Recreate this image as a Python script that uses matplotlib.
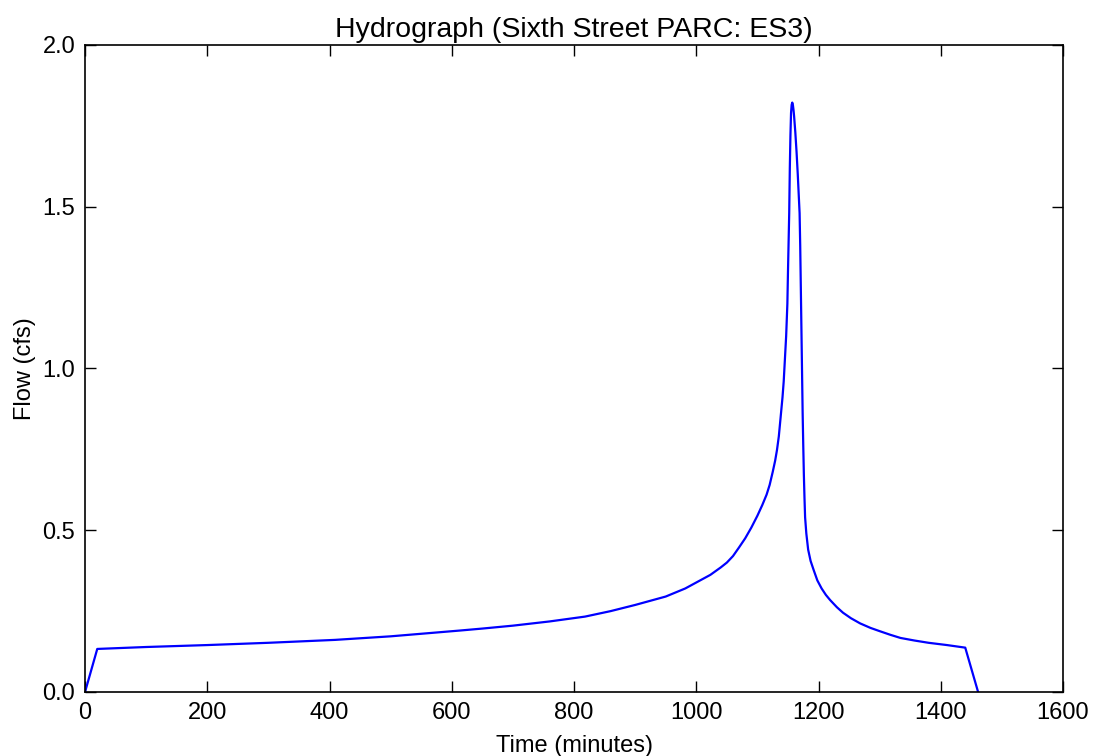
import matplotlib
matplotlib.use("Agg")
import matplotlib.pyplot as plt

time_min = [0, 20, 100, 200, 300, 409, 500, 614, 650, 700, 760, 818, 860, 900, 950, 982,
            1023, 1040, 1050, 1060, 1070, 1080, 1090, 1100, 1108, 1115, 1120, 1125, 1129,
            1132, 1135, 1138, 1141, 1143, 1145, 1147, 1149, 1150, 1151, 1152, 1153, 1154,
            1155, 1156, 1157, 1158, 1159, 1160, 1162, 1164, 1166, 1168, 1169, 1170, 1171,
            1172, 1173, 1174, 1175, 1176, 1177, 1178, 1180, 1183, 1187, 1192, 1198, 1205,
            1212, 1219, 1230, 1240, 1253, 1268, 1285, 1300, 1317, 1334, 1357, 1380, 1410,
            1440, 1461]
flow_cfs = [0.0, 0.133, 0.139, 0.145, 0.152, 0.161, 0.172, 0.190, 0.196, 0.205, 0.218,
            0.233, 0.250, 0.269, 0.295, 0.320, 0.362, 0.385, 0.400, 0.420, 0.447, 0.475,
            0.508, 0.545, 0.578, 0.610, 0.640, 0.680, 0.715, 0.748, 0.790, 0.850, 0.910,
            0.960, 1.030, 1.100, 1.200, 1.300, 1.390, 1.480, 1.620, 1.720, 1.790, 1.815,
            1.822, 1.815, 1.800, 1.780, 1.730, 1.670, 1.600, 1.520, 1.480, 1.380, 1.250,
            1.120, 0.990, 0.860, 0.760, 0.670, 0.600, 0.540, 0.490, 0.440, 0.405, 0.377,
            0.345, 0.320, 0.300, 0.284, 0.262, 0.245, 0.228, 0.212, 0.198, 0.188, 0.177,
            0.167, 0.159, 0.152, 0.145, 0.137, 0.0]

plt.rcParams['font.family'] = ['Liberation Sans', 'DejaVu Sans']
fig = plt.figure(figsize=(10.93, 7.56), dpi=100)
ax = fig.add_axes([0.0778, 0.0847, 0.8948, 0.8558])
ax.plot(time_min, flow_cfs, color='#0000ff', linewidth=1.6)
ax.set_xlim(0, 1600)
ax.set_ylim(0, 2.0)
ax.set_xticks(range(0, 1601, 200))
ax.set_yticks([0.0, 0.5, 1.0, 1.5, 2.0])
ax.set_yticklabels(['0.0', '0.5', '1.0', '1.5', '2.0'])
ax.tick_params(direction='in', top=True, right=True, length=8, width=1, labelsize=17, pad=7)
for s in ax.spines.values():
    s.set_linewidth(1.2)
ax.set_title('Hydrograph (Sixth Street PARC: ES3)', fontsize=20.5, pad=6)
ax.set_xlabel('Time (minutes)', fontsize=17, labelpad=8)
ax.set_ylabel('Flow (cfs)', fontsize=17, labelpad=5)
fig.savefig('out.png', dpi=100, facecolor='white')
